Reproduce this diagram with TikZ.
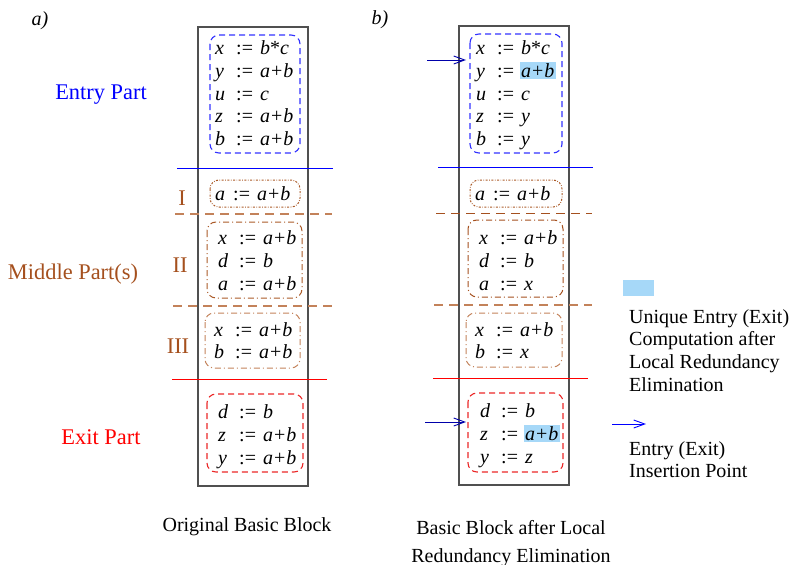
\documentclass[tikz,border=0pt]{standalone}
\usepackage{fontspec}
\setmainfont{Liberation Serif}
\usetikzlibrary{arrows.meta}
\definecolor{brn}{RGB}{165,80,30}
\definecolor{sepbrn}{RGB}{195,130,90}
\definecolor{boxbrn}{RGB}{170,90,40}
\definecolor{hlc}{RGB}{166,216,248}
\definecolor{boxblue}{RGB}{50,50,255}
\definecolor{arrblue}{RGB}{0,0,170}
\definecolor{boxred}{RGB}{235,40,40}
\definecolor{frame}{RGB}{80,80,80}
\newcommand\asg[2]{\makebox[21pt][l]{\itshape #1}\makebox[24pt][l]{:=}#2}
\newcommand\asgI[2]{\makebox[18pt][l]{\itshape #1}\makebox[24pt][l]{:=}#2}
\newcommand\ab{\textit{a}\kern1pt+\kern1pt\textit{b}}
\newcommand\hlt[1]{\kern-1.5pt{\setlength\fboxsep{1.5pt}\colorbox{hlc}{#1}}\kern-1.5pt}
\tikzset{
  code/.style={font=\fontsize{20}{22.8}\selectfont, inner sep=0pt, anchor=west, yshift=-3pt},
  lab/.style={font=\fontsize{22.4}{26}\selectfont, inner sep=0pt, yshift=-3pt},
  txt/.style={font=\fontsize{20}{22.7}\selectfont, inner sep=0pt, yshift=-3pt},
  bframe/.style={draw=frame, line width=1.2pt},
  entrybox/.style={draw=boxblue, dash pattern=on 6pt off 4pt, rounded corners=9pt, line width=1.1pt},
  ibox/.style={draw=boxbrn, dash pattern=on 2pt off 1.5pt on 0.7pt off 1.5pt, rounded corners=9pt, line width=1pt},
  midbox/.style={draw=boxbrn, dash pattern=on 6pt off 3pt on 1pt off 3pt, rounded corners=9pt, line width=1pt},
  exitbox/.style={draw=boxred, dash pattern=on 6pt off 4pt, rounded corners=9pt, line width=1.1pt},
  bsep/.style={draw=blue, line width=1pt},
  rsep/.style={draw=red, line width=1pt},
  msep/.style={draw=sepbrn, dash pattern=on 9pt off 6pt, line width=1.1pt},
  insarrow/.style={draw=arrblue, line width=0.9pt, -{Straight Barb[length=11pt,width=8pt]}},
}
\begin{document}
\begin{tikzpicture}[x=1pt,y=-1pt]
\useasboundingbox (0,0) rectangle (793,565);
% panel labels
\node[txt] (la) at (40,18) {\textit{a)}};
\node[txt] (lb) at (380,17) {\textit{b)}};
% side labels
\node[lab, text=blue] (entry) at (101,92) {Entry Part};
\node[lab, text=brn] (middle) at (73,271) {Middle Part(s)};
\node[lab, text=red] (exit) at (101,434) {Exit Part};
\node[lab, text=brn] (n1) at (182,195) {I};
\node[lab, text=brn] (n2) at (180,262) {II};
\node[lab, text=brn] (n3) at (178,343) {III};
% frames
\draw[bframe] (198,27) rectangle (308,486);
\draw[bframe] (459,26) rectangle (569,485);
% separators left
\draw[bsep] (177,168) -- (333,168);
\draw[msep] (175,214) -- (332,214);
\draw[msep] (173,306) -- (332,306);
\draw[rsep] (172,379) -- (327,379);
% separators right
\draw[bsep] (438,167) -- (593,167);
\draw[msep, draw=brn, line width=1pt] (436,213) -- (592,213);
\draw[msep] (434,305) -- (592,305);
\draw[rsep] (433,378) -- (588,378);
% boxes left
\draw[entrybox] (210,35) rectangle (300,153);
\draw[ibox] (210,180) rectangle (300,207);
\draw[midbox] (207,222) rectangle (302,298);
\draw[midbox, draw=sepbrn] (205,313) rectangle (300,368);
\draw[exitbox] (207,394) rectangle (303,472);
% boxes right
\draw[entrybox] (470,34) rectangle (562,153);
\draw[ibox] (470,180) rectangle (562,207);
\draw[midbox, draw=brn] (468,220) rectangle (563,297);
\draw[midbox, draw=sepbrn] (466,313) rectangle (562,367);
\draw[exitbox] (468,393) rectangle (563,472);
% code left
\node[code] (cl1) at (215,92.5) {\begin{tabular}{@{}l@{}}
\asg{x}{\textit{b}*\textit{c}}\\
\asg{y}{\ab}\\
\asg{u}{\textit{c}}\\
\asg{z}{\ab}\\
\asg{b}{\ab}\end{tabular}};
\node[code] (cl2) at (215,193) {\begin{tabular}{@{}l@{}}\asgI{a}{\ab}\end{tabular}};
\node[code] (cl3) at (218,260) {\begin{tabular}{@{}l@{}}
\asg{x}{\ab}\\
\asg{d}{\textit{b}}\\
\asg{a}{\ab}\end{tabular}};
\node[code] (cl4) at (214,340) {\begin{tabular}{@{}l@{}}
\asg{x}{\ab}\\
\asg{b}{\ab}\end{tabular}};
\node[code] (cl5) at (218,434) {\begin{tabular}{@{}l@{}}
\asg{d}{\textit{b}}\\
\asg{z}{\ab}\\
\asg{y}{\ab}\end{tabular}};
% code right
\node[code] (cr1) at (476,92.5) {\begin{tabular}{@{}l@{}}
\asg{x}{\textit{b}*\textit{c}}\\
\asg{y}{\hlt{\ab}}\\
\asg{u}{\textit{c}}\\
\asg{z}{\textit{y}}\\
\asg{b}{\textit{y}}\end{tabular}};
\node[code] (cr2) at (475,193) {\begin{tabular}{@{}l@{}}\asgI{a}{\ab}\end{tabular}};
\node[code] (cr3) at (479,260) {\begin{tabular}{@{}l@{}}
\asg{x}{\ab}\\
\asg{d}{\textit{b}}\\
\asg{a}{\textit{x}}\end{tabular}};
\node[code] (cr4) at (475,340) {\begin{tabular}{@{}l@{}}
\asg{x}{\ab}\\
\asg{b}{\textit{x}}\end{tabular}};
\node[code] (cr5) at (480,433) {\begin{tabular}{@{}l@{}}
\asg{d}{\textit{b}}\\
\asg{z}{\hlt{\ab}}\\
\asg{y}{\textit{z}}\end{tabular}};
% insertion arrows
\coordinate (a1s) at (427,60);
\coordinate (a1e) at (466,60);
\coordinate (a2s) at (425,422);
\coordinate (a2e) at (466,422);
\draw[insarrow] (a1s) -- (a1e);
\draw[insarrow] (a2s) -- (a2e);
% captions
\node[txt] (cap1) at (247,524) {Original Basic Block};
\node[txt, align=center, font=\fontsize{20}{28}\selectfont] (cap2) at (511,541) {Basic Block after Local\\Redundancy Elimination};
% legend
\fill[hlc] (623,280) rectangle (654,296);
\node[txt, align=left, anchor=north west] (leg1) at (629,306) {Unique Entry (Exit)\\Computation after\\Local Redundancy\\Elimination};
\coordinate (l1s) at (612,424);
\coordinate (l1e) at (646,424);
\draw[insarrow, draw=blue] (l1s) -- (l1e);
\node[txt, align=left, anchor=north west] (leg2) at (629,438) {Entry (Exit)\\Insertion Point};
\end{tikzpicture}
\end{document}
